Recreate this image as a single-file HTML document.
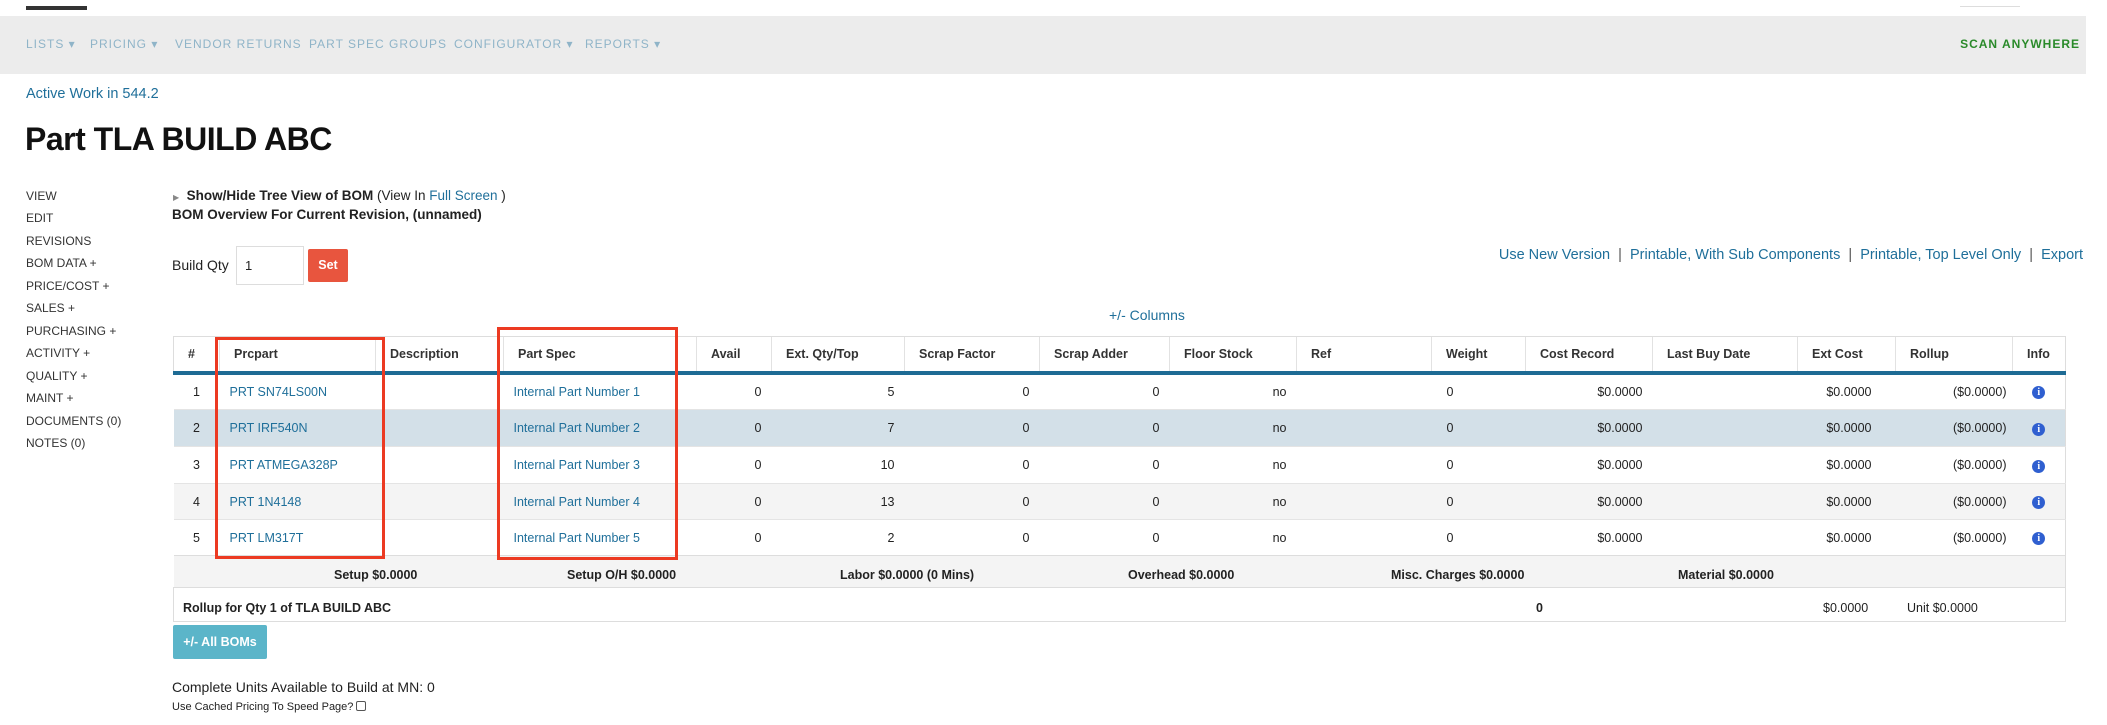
<!DOCTYPE html>
<html><head><meta charset="utf-8"><style>
*{margin:0;padding:0;box-sizing:border-box}
body{width:2107px;height:725px;background:#fff;position:relative;overflow:hidden;font-family:"Liberation Sans Narrow","Liberation Sans",sans-serif;color:#222}
.a{position:absolute;white-space:nowrap}
.nav{font-size:12px;letter-spacing:1px;color:#8fb4c8;top:37px}
.lnk{color:#1f6f9a}
.menu{left:26px;font-size:12px;color:#333}
table{position:absolute;left:173px;top:336px;border-collapse:collapse;table-layout:fixed;font-size:12.5px}
td,th{overflow:hidden;white-space:nowrap}
th{height:36px;text-align:left;padding-left:14px;font-weight:bold;color:#333;border-left:1px solid #e2e2e2;border-top:1px solid #ddd;border-bottom:4px solid #1e6b94}
td{padding:0 10px;border-top:1px solid #e4e4e4}
td.r{text-align:right}
td.c{text-align:center}
.sel td{background:#d3e0e8}
.alt td{background:#f4f4f4}
.ic{display:inline-block;width:13px;height:13px;border-radius:50%;background:#2f5fd0;color:#fff;font-size:10px;line-height:13px;text-align:center;font-weight:bold;font-family:"Liberation Serif",serif}
.box{position:absolute;border:3px solid #ec3a22}
</style></head><body>
<div class="a" style="left:26px;top:6px;width:61px;height:4px;background:#333"></div>
<div class="a" style="left:1960px;top:4px;width:60px;height:3px;border-bottom:1px solid #ddd"></div>
<div class="a" style="left:0;top:16px;width:2086px;height:58px;background:#ececec"></div>
<div class="a nav" style="left:26px">LISTS ▾</div>
<div class="a nav" style="left:90px">PRICING ▾</div>
<div class="a nav" style="left:175px">VENDOR RETURNS</div>
<div class="a nav" style="left:309px">PART SPEC GROUPS</div>
<div class="a nav" style="left:454px">CONFIGURATOR ▾</div>
<div class="a nav" style="left:585px">REPORTS ▾</div>
<div class="a" style="right:27px;top:37px;font-size:12px;letter-spacing:1px;font-weight:bold;color:#2a8a2a">SCAN ANYWHERE</div>

<div class="a lnk" style="left:26px;top:86px;font-size:14.5px">Active Work in 544.2</div>
<div class="a" style="left:25px;top:121px;font-size:32px;font-weight:bold;color:#111;letter-spacing:-0.5px">Part TLA BUILD ABC</div>

<div class="a menu" style="top:189px">VIEW</div>
<div class="a menu" style="top:211px">EDIT</div>
<div class="a menu" style="top:234px">REVISIONS</div>
<div class="a menu" style="top:256px">BOM DATA +</div>
<div class="a menu" style="top:279px">PRICE/COST +</div>
<div class="a menu" style="top:301px">SALES +</div>
<div class="a menu" style="top:324px">PURCHASING +</div>
<div class="a menu" style="top:346px">ACTIVITY +</div>
<div class="a menu" style="top:369px">QUALITY +</div>
<div class="a menu" style="top:391px">MAINT +</div>
<div class="a menu" style="top:414px">DOCUMENTS (0)</div>
<div class="a menu" style="top:436px">NOTES (0)</div>

<div class="a" style="left:173px;top:188px;font-size:13.5px"><span style="font-size:8px;color:#888">▶</span>&nbsp; <b>Show/Hide Tree View of BOM</b> (View In <span class="lnk">Full Screen</span> )</div>
<div class="a" style="left:172px;top:207px;font-size:13.5px;font-weight:bold">BOM Overview For Current Revision, (unnamed)</div>

<div class="a" style="left:172px;top:257px;font-size:14px">Build Qty</div>
<div class="a" style="left:236px;top:246px;width:68px;height:39px;border:1px solid #ddd;font-size:13px;padding:11px 8px">1</div>
<div class="a" style="left:308px;top:249px;width:40px;height:33px;background:#e8553e;color:#fff;font-weight:bold;font-size:12.5px;text-align:center;line-height:33px;border-radius:2px">Set</div>

<div class="a lnk" style="right:24px;top:247px;font-size:14.5px">Use New Version &nbsp;<span style="color:#555">|</span>&nbsp; Printable, With Sub Components &nbsp;<span style="color:#555">|</span>&nbsp; Printable, Top Level Only &nbsp;<span style="color:#555">|</span>&nbsp; Export</div>
<div class="a lnk" style="left:1109px;top:307px;font-size:14px">+/- Columns</div>

<table style="border-right:1px solid #ddd;border-bottom:1px solid #ddd">
<colgroup><col style="width:46px"><col style="width:156px"><col style="width:128px"><col style="width:193px"><col style="width:75px"><col style="width:133px"><col style="width:135px"><col style="width:130px"><col style="width:127px"><col style="width:135px"><col style="width:94px"><col style="width:127px"><col style="width:145px"><col style="width:98px"><col style="width:117px"><col style="width:53px"></colgroup>
<tr><th style="padding-left:14px;border-left:1px solid #ddd">#</th><th>Prcpart</th><th>Description</th><th>Part Spec</th><th>Avail</th><th>Ext. Qty/Top</th><th>Scrap Factor</th><th>Scrap Adder</th><th>Floor Stock</th><th>Ref</th><th>Weight</th><th>Cost Record</th><th>Last Buy Date</th><th>Ext Cost</th><th>Rollup</th><th>Info</th></tr>
<tr style="height:37px"><td class="c">1</td><td class="lnk">PRT SN74LS00N</td><td></td><td class="lnk">Internal Part Number 1</td><td class="r">0</td><td class="r">5</td><td class="r">0</td><td class="r">0</td><td class="r">no</td><td></td><td style="padding-left:15px">0</td><td class="r">$0.0000</td><td></td><td class="r" style="padding-right:24px">$0.0000</td><td class="r" style="padding-right:6px">($0.0000)</td><td class="c"><span class="ic">i</span></td></tr>
<tr class="sel" style="height:37px"><td class="c">2</td><td class="lnk">PRT IRF540N</td><td></td><td class="lnk">Internal Part Number 2</td><td class="r">0</td><td class="r">7</td><td class="r">0</td><td class="r">0</td><td class="r">no</td><td></td><td style="padding-left:15px">0</td><td class="r">$0.0000</td><td></td><td class="r" style="padding-right:24px">$0.0000</td><td class="r" style="padding-right:6px">($0.0000)</td><td class="c"><span class="ic">i</span></td></tr>
<tr style="height:37px"><td class="c">3</td><td class="lnk">PRT ATMEGA328P</td><td></td><td class="lnk">Internal Part Number 3</td><td class="r">0</td><td class="r">10</td><td class="r">0</td><td class="r">0</td><td class="r">no</td><td></td><td style="padding-left:15px">0</td><td class="r">$0.0000</td><td></td><td class="r" style="padding-right:24px">$0.0000</td><td class="r" style="padding-right:6px">($0.0000)</td><td class="c"><span class="ic">i</span></td></tr>
<tr class="alt" style="height:36px"><td class="c">4</td><td class="lnk">PRT 1N4148</td><td></td><td class="lnk">Internal Part Number 4</td><td class="r">0</td><td class="r">13</td><td class="r">0</td><td class="r">0</td><td class="r">no</td><td></td><td style="padding-left:15px">0</td><td class="r">$0.0000</td><td></td><td class="r" style="padding-right:24px">$0.0000</td><td class="r" style="padding-right:6px">($0.0000)</td><td class="c"><span class="ic">i</span></td></tr>
<tr style="height:36px"><td class="c">5</td><td class="lnk">PRT LM317T</td><td></td><td class="lnk">Internal Part Number 5</td><td class="r">0</td><td class="r">2</td><td class="r">0</td><td class="r">0</td><td class="r">no</td><td></td><td style="padding-left:15px">0</td><td class="r">$0.0000</td><td></td><td class="r" style="padding-right:24px">$0.0000</td><td class="r" style="padding-right:6px">($0.0000)</td><td class="c"><span class="ic">i</span></td></tr>
<tr class="alt" style="height:32px"><td colspan="16" style="border-top:1px solid #ddd"></td></tr>
<tr style="height:34px"><td colspan="16" style="border-top:1px solid #ddd;border-left:1px solid #ddd"></td></tr>
</table>

<div class="a" style="left:334px;top:568px;font-size:12.5px;font-weight:bold">Setup $0.0000</div>
<div class="a" style="left:567px;top:568px;font-size:12.5px;font-weight:bold">Setup O/H $0.0000</div>
<div class="a" style="left:840px;top:568px;font-size:12.5px;font-weight:bold">Labor $0.0000 (0 Mins)</div>
<div class="a" style="left:1128px;top:568px;font-size:12.5px;font-weight:bold">Overhead $0.0000</div>
<div class="a" style="left:1391px;top:568px;font-size:12.5px;font-weight:bold">Misc. Charges $0.0000</div>
<div class="a" style="left:1678px;top:568px;font-size:12.5px;font-weight:bold">Material $0.0000</div>
<div class="a" style="left:183px;top:601px;font-size:12.5px;font-weight:bold">Rollup for Qty 1 of TLA BUILD ABC</div>
<div class="a" style="left:1536px;top:601px;font-size:12.5px;font-weight:bold">0</div>
<div class="a" style="left:1823px;top:601px;font-size:12.5px">$0.0000</div>
<div class="a" style="left:1907px;top:601px;font-size:12.5px">Unit $0.0000</div>

<div class="box" style="left:215px;top:337px;width:170px;height:222px"></div>
<div class="box" style="left:497px;top:327px;width:181px;height:233px"></div>

<div class="a" style="left:173px;top:625px;width:94px;height:34px;background:#5bb5c9;color:#fff;font-weight:bold;font-size:12.5px;text-align:center;line-height:34px;border-radius:2px">+/- All BOMs</div>
<div class="a" style="left:172px;top:679px;font-size:14px">Complete Units Available to Build at MN: 0</div>
<div class="a" style="left:172px;top:701px;font-size:11px">Use Cached Pricing To Speed Page? <span style="display:inline-block;width:10px;height:10px;border:1px solid #555;border-radius:2px;vertical-align:-1px"></span></div>
</body></html>
